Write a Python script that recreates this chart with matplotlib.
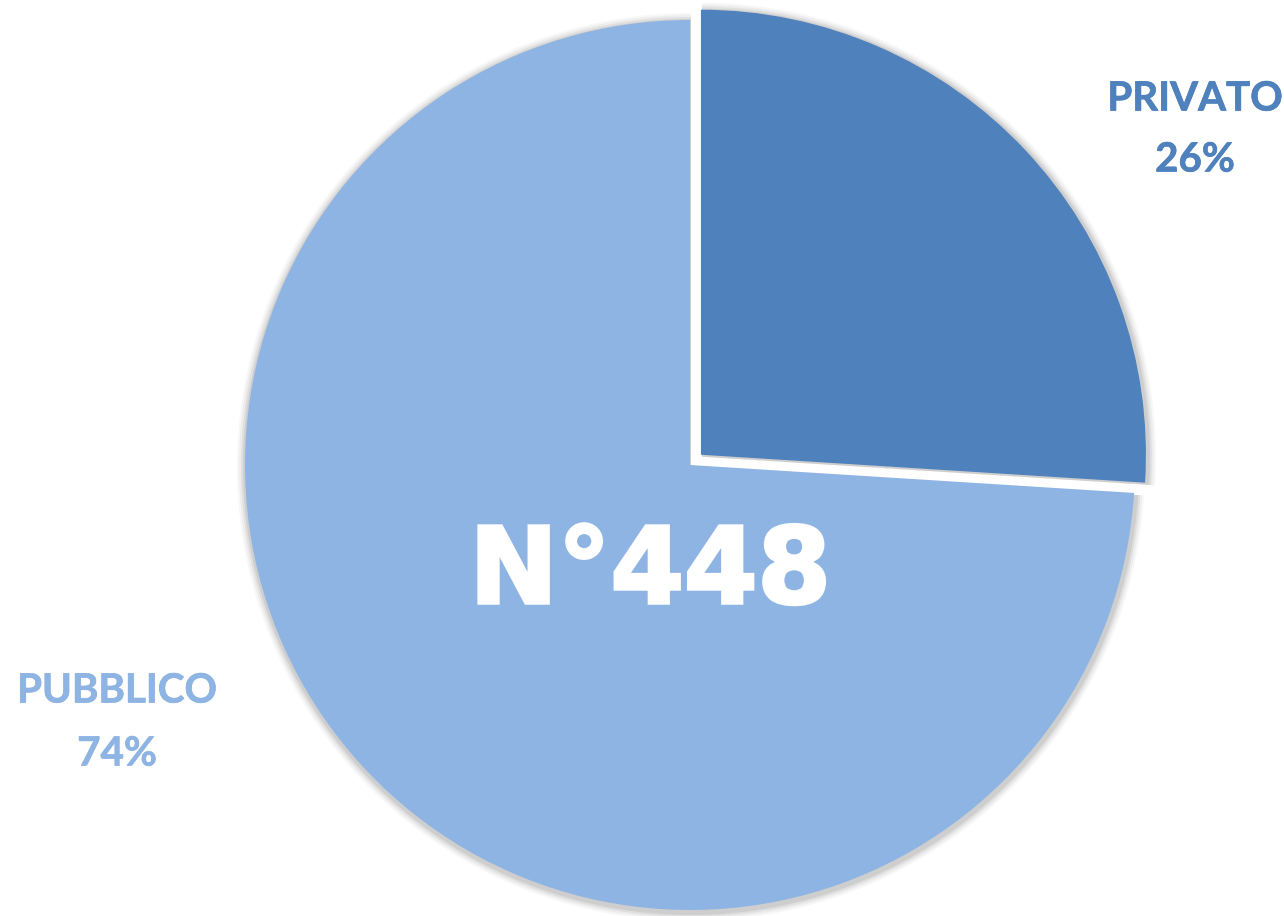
import matplotlib
matplotlib.use("Agg")
import matplotlib.pyplot as plt
import matplotlib.patheffects as pe

# Data
categories = ["PRIVATO", "PUBBLICO"]
values = [26, 74]
total_n = 448
colors = ["#4F81BD", "#8EB4E3"]

W, H = 1284, 916
fig = plt.figure(figsize=(W / 100, H / 100), dpi=100)
ax = fig.add_axes([0, 0, 1, 1])

cx, cy, R = 690, H - 465, 445
explode = [15, 0]  # matplotlib uses data units here

# soft shadow layers
for k, (dr, a) in enumerate([(9, 0.05), (7, 0.07), (5, 0.10), (3, 0.14)]):
    ax.pie(values, startangle=90, counterclock=False,
           explode=explode,
           colors=["#6a6a6a"] * 2, radius=R + dr, center=(cx + 1, cy - 2),
           wedgeprops=dict(linewidth=0, alpha=a, zorder=1 + k * 0.1))

wedges, _ = ax.pie(values, startangle=90, counterclock=False, explode=explode,
                   colors=colors, radius=R, center=(cx, cy),
                   wedgeprops=dict(linewidth=0, zorder=3))

ax.set_xlim(0, W)
ax.set_ylim(0, H)
ax.set_aspect("equal")
ax.axis("off")

font = ["Lato", "DejaVu Sans"]
label_pos = {"PRIVATO": (1195, 99, 160), "PUBBLICO": (117, 691, 754)}
for cat, val, col in zip(categories, values, colors):
    x, y1, y2 = label_pos[cat]
    st = [pe.withStroke(linewidth=0.5, foreground=col)]
    ax.text(x, H - y1, cat, color=col, fontsize=29, fontweight="bold",
            family=font, ha="center", va="center", zorder=5, path_effects=st)
    ax.text(x, H - y2, f"{val}%", color=col, fontsize=29, fontweight="bold",
            family=font, ha="center", va="center", zorder=5, path_effects=st)

ax.text(650, H - 574, f"N°{total_n}", color="white", fontsize=76,
        fontweight="bold", family=["DejaVu Sans"], ha="center", va="center",
        zorder=6, path_effects=[pe.withStroke(linewidth=2.5, foreground="white",
                                              joinstyle="miter")])

fig.savefig("out.png", dpi=100, facecolor="white")
